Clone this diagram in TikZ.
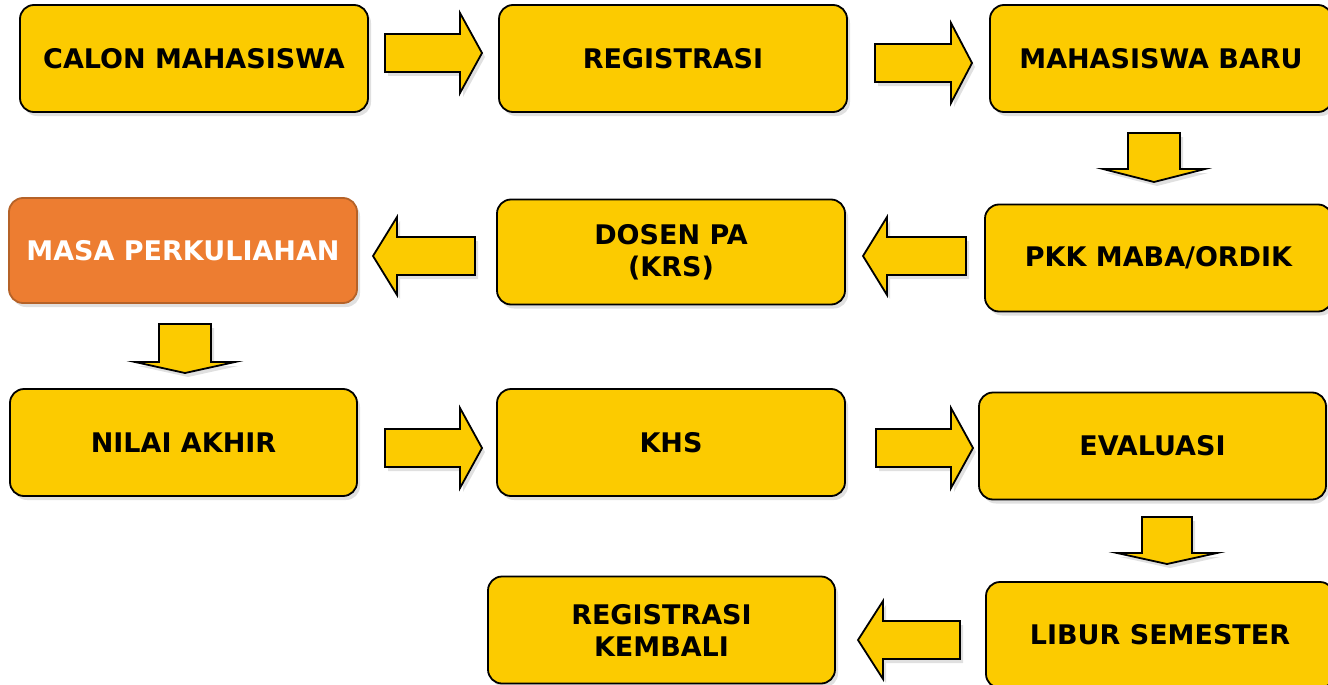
\documentclass[tikz,border=0pt]{standalone}
\usepackage{fontspec}
\setmainfont{DejaVu Sans}
\usetikzlibrary{shadows}

\definecolor{boxyellow}{RGB}{252,203,0}
\definecolor{boxorange}{RGB}{237,125,49}
\definecolor{orangeline}{RGB}{181,98,40}

\tikzset{
  softshadow/.style={drop shadow={shadow xshift=3pt, shadow yshift=-4pt, opacity=0.12, fill=black}},
  stage/.style={draw=black, line width=1.8pt, fill=boxyellow, rounded corners=14pt,
    minimum width=348pt, minimum height=107pt, align=center, inner sep=0pt,
    font=\fontsize{27}{32}\selectfont\bfseries, softshadow},
  stagehot/.style={stage, draw=orangeline, fill=boxorange, text=white},
  arrowbody/.style={draw=black, line width=1.8pt, fill=boxyellow, line join=miter, softshadow},
  pics/blockarrow/.style n args={4}{code={
    \draw[arrowbody] (0,-#3) -- (#1-#2,-#3) -- (#1-#2,-#4) -- (#1,0)
      -- (#1-#2,#4) -- (#1-#2,#3) -- (0,#3) -- cycle;
  }}
}

\begin{document}
\begin{tikzpicture}[x=1pt, y=-1pt]
    \useasboundingbox (0,0) rectangle (1328,685);
    % row 1
    \node [stage]                      (calon)   at (194, 58.5)   {CALON MAHASISWA};
    \node [stage]                      (reg)     at (673, 58.5)   {REGISTRASI};
    \node [stage, minimum width=342pt] (baru)    at (1161, 58.5)  {MAHASISWA BARU};
    % row 2
    \node [stagehot, minimum height=105pt] (masa)  at (183, 250.5)  {MASA PERKULIAHAN};
    \node [stage, minimum height=105pt]    (dosen) at (671, 252)    {DOSEN PA\\(KRS)};
    \node [stage, minimum width=347pt]     (pkk)   at (1158.5, 258) {PKK MABA/ORDIK};
    % row 3
    \node [stage, minimum width=347pt] (nilai)   at (183.5, 442.5) {NILAI AKHIR};
    \node [stage]                      (khs)     at (671, 442.5)   {KHS};
    \node [stage, minimum width=347pt] (eval)    at (1152.5, 446)  {EVALUASI};
    % row 4
    \node [stage, minimum width=347pt] (kembali) at (661.5, 630)   {REGISTRASI\\KEMBALI};
    \node [stage, minimum height=106pt] (libur)  at (1160, 635)    {LIBUR SEMESTER};
    % arrows, right
    \pic              at (385, 53)   {blockarrow={97}{22}{19}{40}};
    \pic              at (875, 63)   {blockarrow={97}{21}{19}{40}};
    \pic              at (385, 448)  {blockarrow={97}{22}{19}{40}};
    \pic              at (876, 448)  {blockarrow={97}{22}{19}{40}};
    % arrows, left
    \pic [rotate=180] at (966, 256)  {blockarrow={103}{24}{19}{39}};
    \pic [rotate=180] at (475, 256)  {blockarrow={102}{24}{19}{39}};
    \pic [rotate=180] at (960, 640)  {blockarrow={102}{25}{19}{39}};
    % arrows, down
    \pic [rotate=-90] at (1154, 133) {blockarrow={49}{13}{26}{51}};
    \pic [rotate=-90] at (185, 324)  {blockarrow={49}{11}{26}{50}};
    \pic [rotate=-90] at (1167, 517) {blockarrow={47}{11}{25}{50}};
  \end{tikzpicture}
\end{document}
